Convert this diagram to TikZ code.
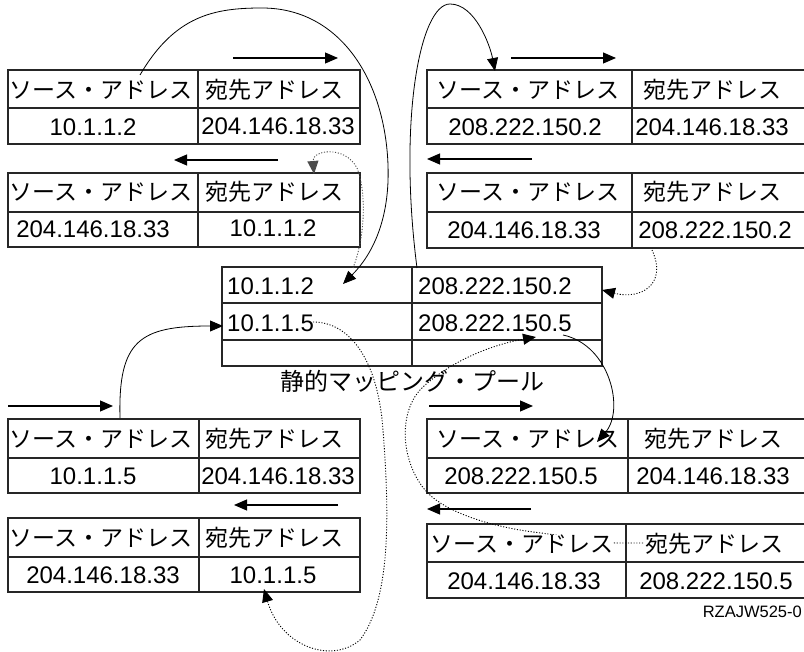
\documentclass[tikz,border=0pt]{standalone}
\usepackage{fontspec}
\setmainfont{Liberation Sans}
\newfontfamily\jp{Noto Sans CJK JP}
\usetikzlibrary{arrows.meta}
\tikzset{
 frame/.style={line width=1.1pt, draw=black!85},
 jt/.style={font=\jp\fontsize{23}{26}\selectfont, inner sep=0pt},
 nt/.style={font=\fontsize{24}{26}\selectfont, inner sep=0pt},
 flow/.style={line width=1.1pt, -{Triangle[length=13pt,width=11pt]}},
 link/.style={line width=0.8pt, -{Triangle[length=13pt,width=11pt]}},
 dlink/.style={line width=0.9pt, dash pattern=on 1.1pt off 1.7pt, -{Triangle[length=13pt,width=11pt]}}
}
\newcommand\tbl[6]{%
 \draw[frame] (#1,#4) rectangle (#3,#6);
 \draw[frame] (#2,#4) -- (#2,#6);
 \draw[frame] (#1,#5) -- (#3,#5);}
\begin{document}
\begin{tikzpicture}[x=1pt,y=-1pt]
\useasboundingbox (0,0) rectangle (804,652);
% ---------- tables ----------
\tbl{8}{198}{360}{70}{108}{144}
\tbl{8}{198}{360}{173}{212}{247}
\tbl{427}{632}{815}{70}{108}{144}
\tbl{427}{632}{815}{173}{212}{248}
\tbl{8}{199}{360}{419}{458}{493}
\tbl{8}{199}{360}{518}{557}{592}
\tbl{427}{628}{815}{419}{458}{493}
\tbl{427}{626}{815}{524}{562}{598}
% pool
\draw[frame] (222,267) rectangle (602,366);
\draw[frame] (412,267) -- (412,366);
\draw[frame] (222,303) -- (602,303);
\draw[frame] (222,340) -- (602,340);
% ---------- texts ----------
% top-left 1
\node[jt] (tl1s) at (101,90) {ソース・アドレス};
\node[jt] (tl1d) at (274,90) {宛先アドレス};
\node[nt] (tl1sv) at (93,127) {10.1.1.2};
\node[nt] (tl1dv) at (278,126) {204.146.18.33};
% top-left 2
\node[jt] (tl2s) at (101,192) {ソース・アドレス};
\node[jt] (tl2d) at (274,192) {宛先アドレス};
\node[nt] (tl2sv) at (93,229) {204.146.18.33};
\node[nt] (tl2dv) at (273,228) {10.1.1.2};
% top-right 1
\node[jt] (tr1s) at (528,90) {ソース・アドレス};
\node[jt] (tr1d) at (712,90) {宛先アドレス};
\node[nt] (tr1sv) at (525,127) {208.222.150.2};
\node[nt] (tr1dv) at (712,127) {204.146.18.33};
% top-right 2
\node[jt] (tr2s) at (528,192) {ソース・アドレス};
\node[jt] (tr2d) at (712,192) {宛先アドレス};
\node[nt] (tr2sv) at (524,230) {204.146.18.33};
\node[nt] (tr2dv) at (715,230) {208.222.150.2};
% pool
\node[nt, anchor=west] (p1) at (227,286) {10.1.1.2};
\node[nt, anchor=west] (p2) at (418,286) {208.222.150.2};
\node[nt, anchor=west] (p3) at (227,323) {10.1.1.5};
\node[nt, anchor=west] (p4) at (418,323) {208.222.150.5};
\node[jt, font=\jp\fontsize{24}{26}\selectfont] (pool) at (412,381) {静的マッピング・プール};
% bottom-left 1
\node[jt] (bl1s) at (101,439) {ソース・アドレス};
\node[jt] (bl1d) at (274,439) {宛先アドレス};
\node[nt] (bl1sv) at (93,476) {10.1.1.5};
\node[nt] (bl1dv) at (278,476) {204.146.18.33};
% bottom-left 2
\node[jt] (bl2s) at (101,538) {ソース・アドレス};
\node[jt] (bl2d) at (274,538) {宛先アドレス};
\node[nt] (bl2sv) at (103,575) {204.146.18.33};
\node[nt] (bl2dv) at (273,575) {10.1.1.5};
% bottom-right 1
\node[jt] (br1s) at (528,439) {ソース・アドレス};
\node[jt] (br1d) at (713,439) {宛先アドレス};
\node[nt] (br1sv) at (521,476) {208.222.150.5};
\node[nt] (br1dv) at (713,476) {204.146.18.33};
% bottom-right 2 (dest header)
\node[jt] (br2d) at (714,544) {宛先アドレス};
\node[nt] (br2sv) at (524,581) {204.146.18.33};
\node[nt] (br2dv) at (716,581) {208.222.150.5};
% figure id
\node[font=\fontsize{16.5}{18}\selectfont, inner sep=0pt, anchor=east] (fid) at (802,612) {RZAJW525-0};
% ---------- straight direction arrows ----------
\coordinate (a1s) at (233,58);  \coordinate (a1e) at (338,58);
\coordinate (a2s) at (278,160); \coordinate (a2e) at (174,160);
\coordinate (a3s) at (511,58);  \coordinate (a3e) at (616,58);
\coordinate (a4s) at (532,159); \coordinate (a4e) at (427,159);
\coordinate (a5s) at (8,406);   \coordinate (a5e) at (113,406);
\coordinate (a6s) at (338,505); \coordinate (a6e) at (234,505);
\coordinate (a7s) at (429,406); \coordinate (a7e) at (533,406);
\coordinate (a8s) at (531,509); \coordinate (a8e) at (427,509);
\foreach \i in {1,...,8} {\draw[flow] (a\i s) -- (a\i e);}
% ---------- mapping curves ----------
\coordinate (c1s) at (140,75);  \coordinate (c1e) at (343,284);
\draw[link] (c1s) .. controls (175,15) and (215,8) .. (262,8)
  .. controls (340,8) and (385,80) .. (388,165)
  .. controls (390,220) and (372,255) .. (c1e);
\coordinate (c2s) at (353,268); \coordinate (c2e) at (314,174);
\draw[dlink, draw=black!70] (c2s) .. controls (366,235) and (366,190) .. (357,168)
  .. controls (345,145) and (312,150) .. (c2e);
\coordinate (c3s) at (417,268); \coordinate (c3e) at (495,71);
\draw[link] (c3s) .. controls (398,120) and (420,4) .. (450,4)
  .. controls (475,4) and (490,45) .. (c3e);
\coordinate (c4s) at (652,250); \coordinate (c4e) at (602,290);
\draw[dlink] (c4s) .. controls (668,285) and (640,300) .. (c4e);
\coordinate (c5s) at (120,418); \coordinate (c5e) at (223,326);
\draw[link] (c5s) .. controls (118,340) and (140,326) .. (c5e);
\coordinate (c6s) at (313,322); \coordinate (c6e) at (264,589);
\draw[dlink] (c6s) .. controls (350,322) and (378,360) .. (383,430)
  .. controls (390,520) and (390,600) .. (360,640)
  .. controls (330,665) and (280,645) .. (c6e);
\coordinate (c7s) at (563,335); \coordinate (c7e) at (597,442);
\draw[link] (c7s) .. controls (610,345) and (625,410) .. (c7e);
\coordinate (c8s) at (643,543); \coordinate (c8e) at (536,337);
\draw[dlink] (c8s) -- (615,543) .. controls (580,540) and (560,535) .. (533,532)
  .. controls (480,525) and (440,508) .. (425,490)
  .. controls (400,460) and (398,410) .. (423,387)
  .. controls (450,362) and (490,345) .. (c8e);
% header of bottom-right 2 source drawn over the dotted line
\node[jt, fill=white] (br2s) at (522,544) {ソース・アドレス};
\end{tikzpicture}
\end{document}
